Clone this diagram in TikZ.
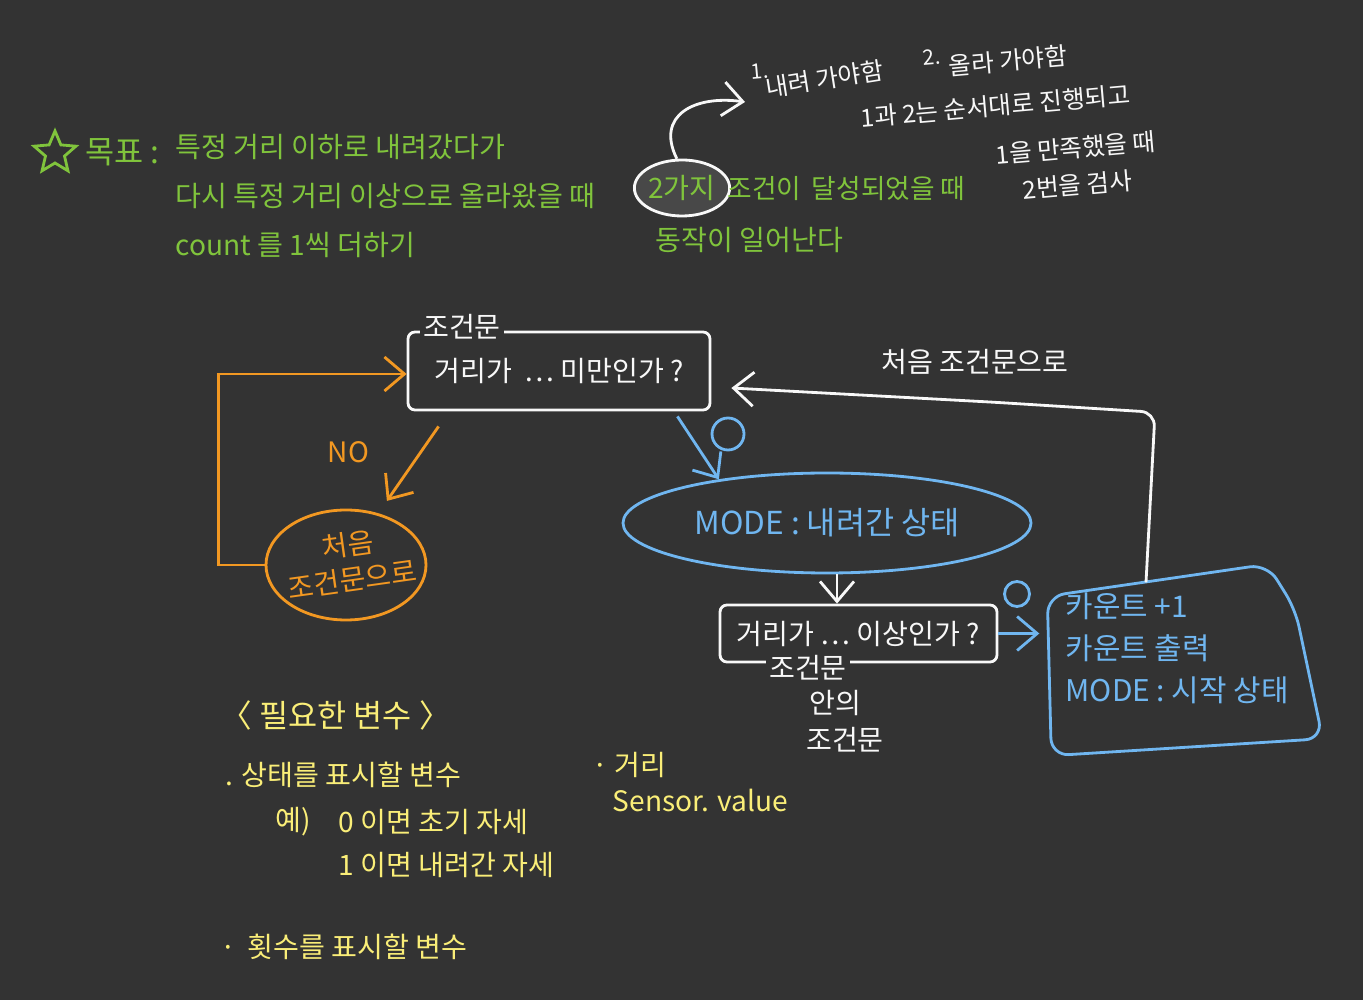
\documentclass[tikz,border=0pt]{standalone}
\usepackage{fontspec}
\setmainfont{Noto Sans CJK KR}
\usepackage{tikz}
\usetikzlibrary{shapes.geometric, arrows.meta, positioning, calc}
\definecolor{fondSombre}{RGB}{51, 51, 51}
\definecolor{fondClair}{RGB}{72, 72, 72}
\definecolor{vertNote}{RGB}{128, 196, 60}
\definecolor{orangeNote}{RGB}{242, 152, 34}
\definecolor{bleuNote}{RGB}{112, 182, 240}
\definecolor{jauneNote}{RGB}{250, 238, 120}
\definecolor{blancNote}{RGB}{248, 248, 248}

\begin{document}
\begin{tikzpicture}[
  txt/.style={inner sep=0pt, anchor=west, font=\fontsize{8}{10}\selectfont},
  vert/.style={txt, text=vertNote},
  blanc/.style={txt, text=blancNote},
  petit/.style={blanc, font=\fontsize{7}{9}\selectfont, rotate=5},
  jaune/.style={txt, text=jauneNote},
  cond/.style={rectangle, draw=blancNote, thick, rounded corners=2pt,
    text=blancNote, font=\fontsize{8}{10}\selectfont},
  oui/.style={circle, draw=bleuNote, thick, inner sep=0pt},
  coupe/.style={fill=fondSombre, inner sep=1pt, text=blancNote,
    font=\fontsize{8}{10}\selectfont},
  arr/.style={-{Straight Barb[length=2mm, width=3.4mm]}, thick},
]
\fill[fondSombre] (0,0) rectangle (13.63,-10);
\useasboundingbox (0,0) rectangle (13.63,-10);

% objectif
\node[star, star points=5, star point ratio=2.2, draw=vertNote, thick,
  minimum size=0.44cm, inner sep=0pt] (etoile) at (0.55,-1.53) {};
\node[vert, font=\fontsize{9}{11}\selectfont] (but) at (0.85,-1.52) {목표 :};
\node[vert] (butA) at (1.75,-1.47) {특정 거리 이하로 내려갔다가};
\node[vert] (butB) at (1.75,-1.96) {다시 특정 거리 이상으로 올라왔을 때};
\node[vert] (butC) at (1.75,-2.45) {count 를 1씩 더하기};

% deux conditions
\node[ellipse, draw=blancNote, thick, fill=fondClair, inner sep=0pt,
  minimum width=0.86cm, minimum height=0.56cm, text=vertNote,
  font=\fontsize{8}{10}\selectfont] (deux) at (6.82,-1.88) {2가지};
\node[vert, font=\fontsize{7.6}{10}\selectfont] (deuxSuite) at (7.27,-1.89)
  {조건이 \,달성되었을 때};
\node[vert] (action) at (6.55,-2.40) {동작이 일어난다};
\node[petit, font=\fontsize{6}{8}\selectfont] (un) at (7.5,-0.72) {1.};
\node[petit, rotate=4] (descendre) at (7.65,-0.88) {내려 가야함};
\node[petit, font=\fontsize{6}{8}\selectfont] (deuxNum) at (9.22,-0.58) {2.};
\node[petit] (monter) at (9.48,-0.66) {올라 가야함};
\node[petit] (ordre) at (8.6,-1.18) {1과 2는 순서대로 진행되고};
\node[petit] (ordreB) at (9.95,-1.55) {1을 만족했을 때};
\node[petit] (ordreC) at (10.22,-1.9) {2번을 검사};
\coordinate (visee) at (7.45,-1.02);
\draw[arr, blancNote] (deux.100) .. controls (6.55,-1.15) and (6.95,-0.95) .. (visee);

% premier test
\node[cond, minimum width=3.02cm, minimum height=0.78cm] (cond1)
  at (5.59,-3.71) {거리가 \ … 미만인가 ?};
\node[coupe] (cond1Nom) at (4.62,-3.27) {조건문};
\node[ellipse, draw=orangeNote, thick, minimum width=1.6cm,
  minimum height=1.1cm] (retour) at (3.46,-5.65) {};
\node[txt, anchor=center, text=orangeNote, align=center, rotate=8]
  (retourTxt) at (3.5,-5.62) {처음\\조건문으로};
\node[txt, text=orangeNote] (non) at (3.27,-4.52) {NO};
\draw[arr, orangeNote] (retour.west) -- ++(-0.46,0.0) |- ([yshift=-0.03cm]cond1.west);
\draw[arr, orangeNote, shorten >=0.15cm]
  ([shift={(0.32,-0.15)}]cond1.south west) -- (retour.58);

% descente
\node[ellipse, draw=bleuNote, thick, minimum width=3.24cm, minimum height=1cm,
  text=bleuNote, font=\fontsize{9}{11}\selectfont] (mode) at (8.27,-5.23)
  {MODE : 내려간 상태};
\node[oui, minimum size=0.32cm] (ouiA) at (7.28,-4.34) {};
\draw[arr, bleuNote] ([shift={(-0.34,-0.05)}]cond1.south east) -- (mode.158);

% second test
\node[cond, minimum width=2.77cm, minimum height=0.57cm] (cond2)
  at (8.585,-6.335) {거리가 … 이상인가 ?};
\node[coupe] (cond2Nom) at (8.08,-6.68) {조건문};
\node[blanc, anchor=center] (cond2Dans) at (8.35,-7.03) {안의};
\node[blanc, anchor=center] (cond2Fin) at (8.45,-7.40) {조건문};
\draw[arr, blancNote] ([xshift=0.1cm]mode.south) -- ([xshift=0.1cm]mode.south |- cond2.north);

% comptage
\node[minimum width=2.74cm, minimum height=1.9cm] (compte) at (11.85,-6.6) {};
\node[txt, align=left, text=bleuNote, font=\fontsize{8.5}{12}\selectfont,
  anchor=north west] (compteTxt) at (10.65,-5.92)
  {카운트 +1\\카운트 출력\\MODE : 시작 상태};
\draw[bleuNote, thick, rounded corners=5pt]
  ($(compte.north west)+(0,-0.32)$) -- ($(compte.north west)+(2.2,0)$)
  -- ($(compte.north west)+(2.48,-0.45)$) -- ($(compte.south east)+(0,0.17)$)
  -- ($(compte.south west)+(0.04,0)$) -- cycle;
\node[oui, minimum size=0.25cm] (ouiB) at (10.17,-5.94) {};
\draw[arr, bleuNote] (cond2.east) -- ([xshift=-0.08cm]compte.west |- cond2.east);
\draw[arr, blancNote, rounded corners=4pt]
  ([shift={(-0.39,-0.18)}]compte.north) -- ++(0.09,1.7) -- ++(-1.6,0.1)
  -- ([shift={(0.2,-0.17)}]cond1.east);
\node[blanc, anchor=center] (retourHaut) at (9.75,-3.62) {처음 조건문으로};

% variables
\node[jaune, font=\fontsize{9}{11}\selectfont] (vars) at (2.2,-7.15) {〈 필요한 변수 〉};
\node[jaune] (etat) at (2.25,-7.75) {. 상태를 표시할 변수};
\node[jaune] (exemple) at (2.75,-8.22) {예)};
\node[jaune] (etat0) at (3.38,-8.22) {0 이면 초기 자세};
\node[jaune] (etat1) at (3.38,-8.65) {1 이면 내려간 자세};
\node[jaune] (fois) at (2.2,-9.47) {·\, 횟수를 표시할 변수};
\node[jaune] (dist) at (5.92,-7.65) {· 거리};
\node[jaune] (capteur) at (6.12,-8.0) {Sensor. value};
\end{tikzpicture}
\end{document}
